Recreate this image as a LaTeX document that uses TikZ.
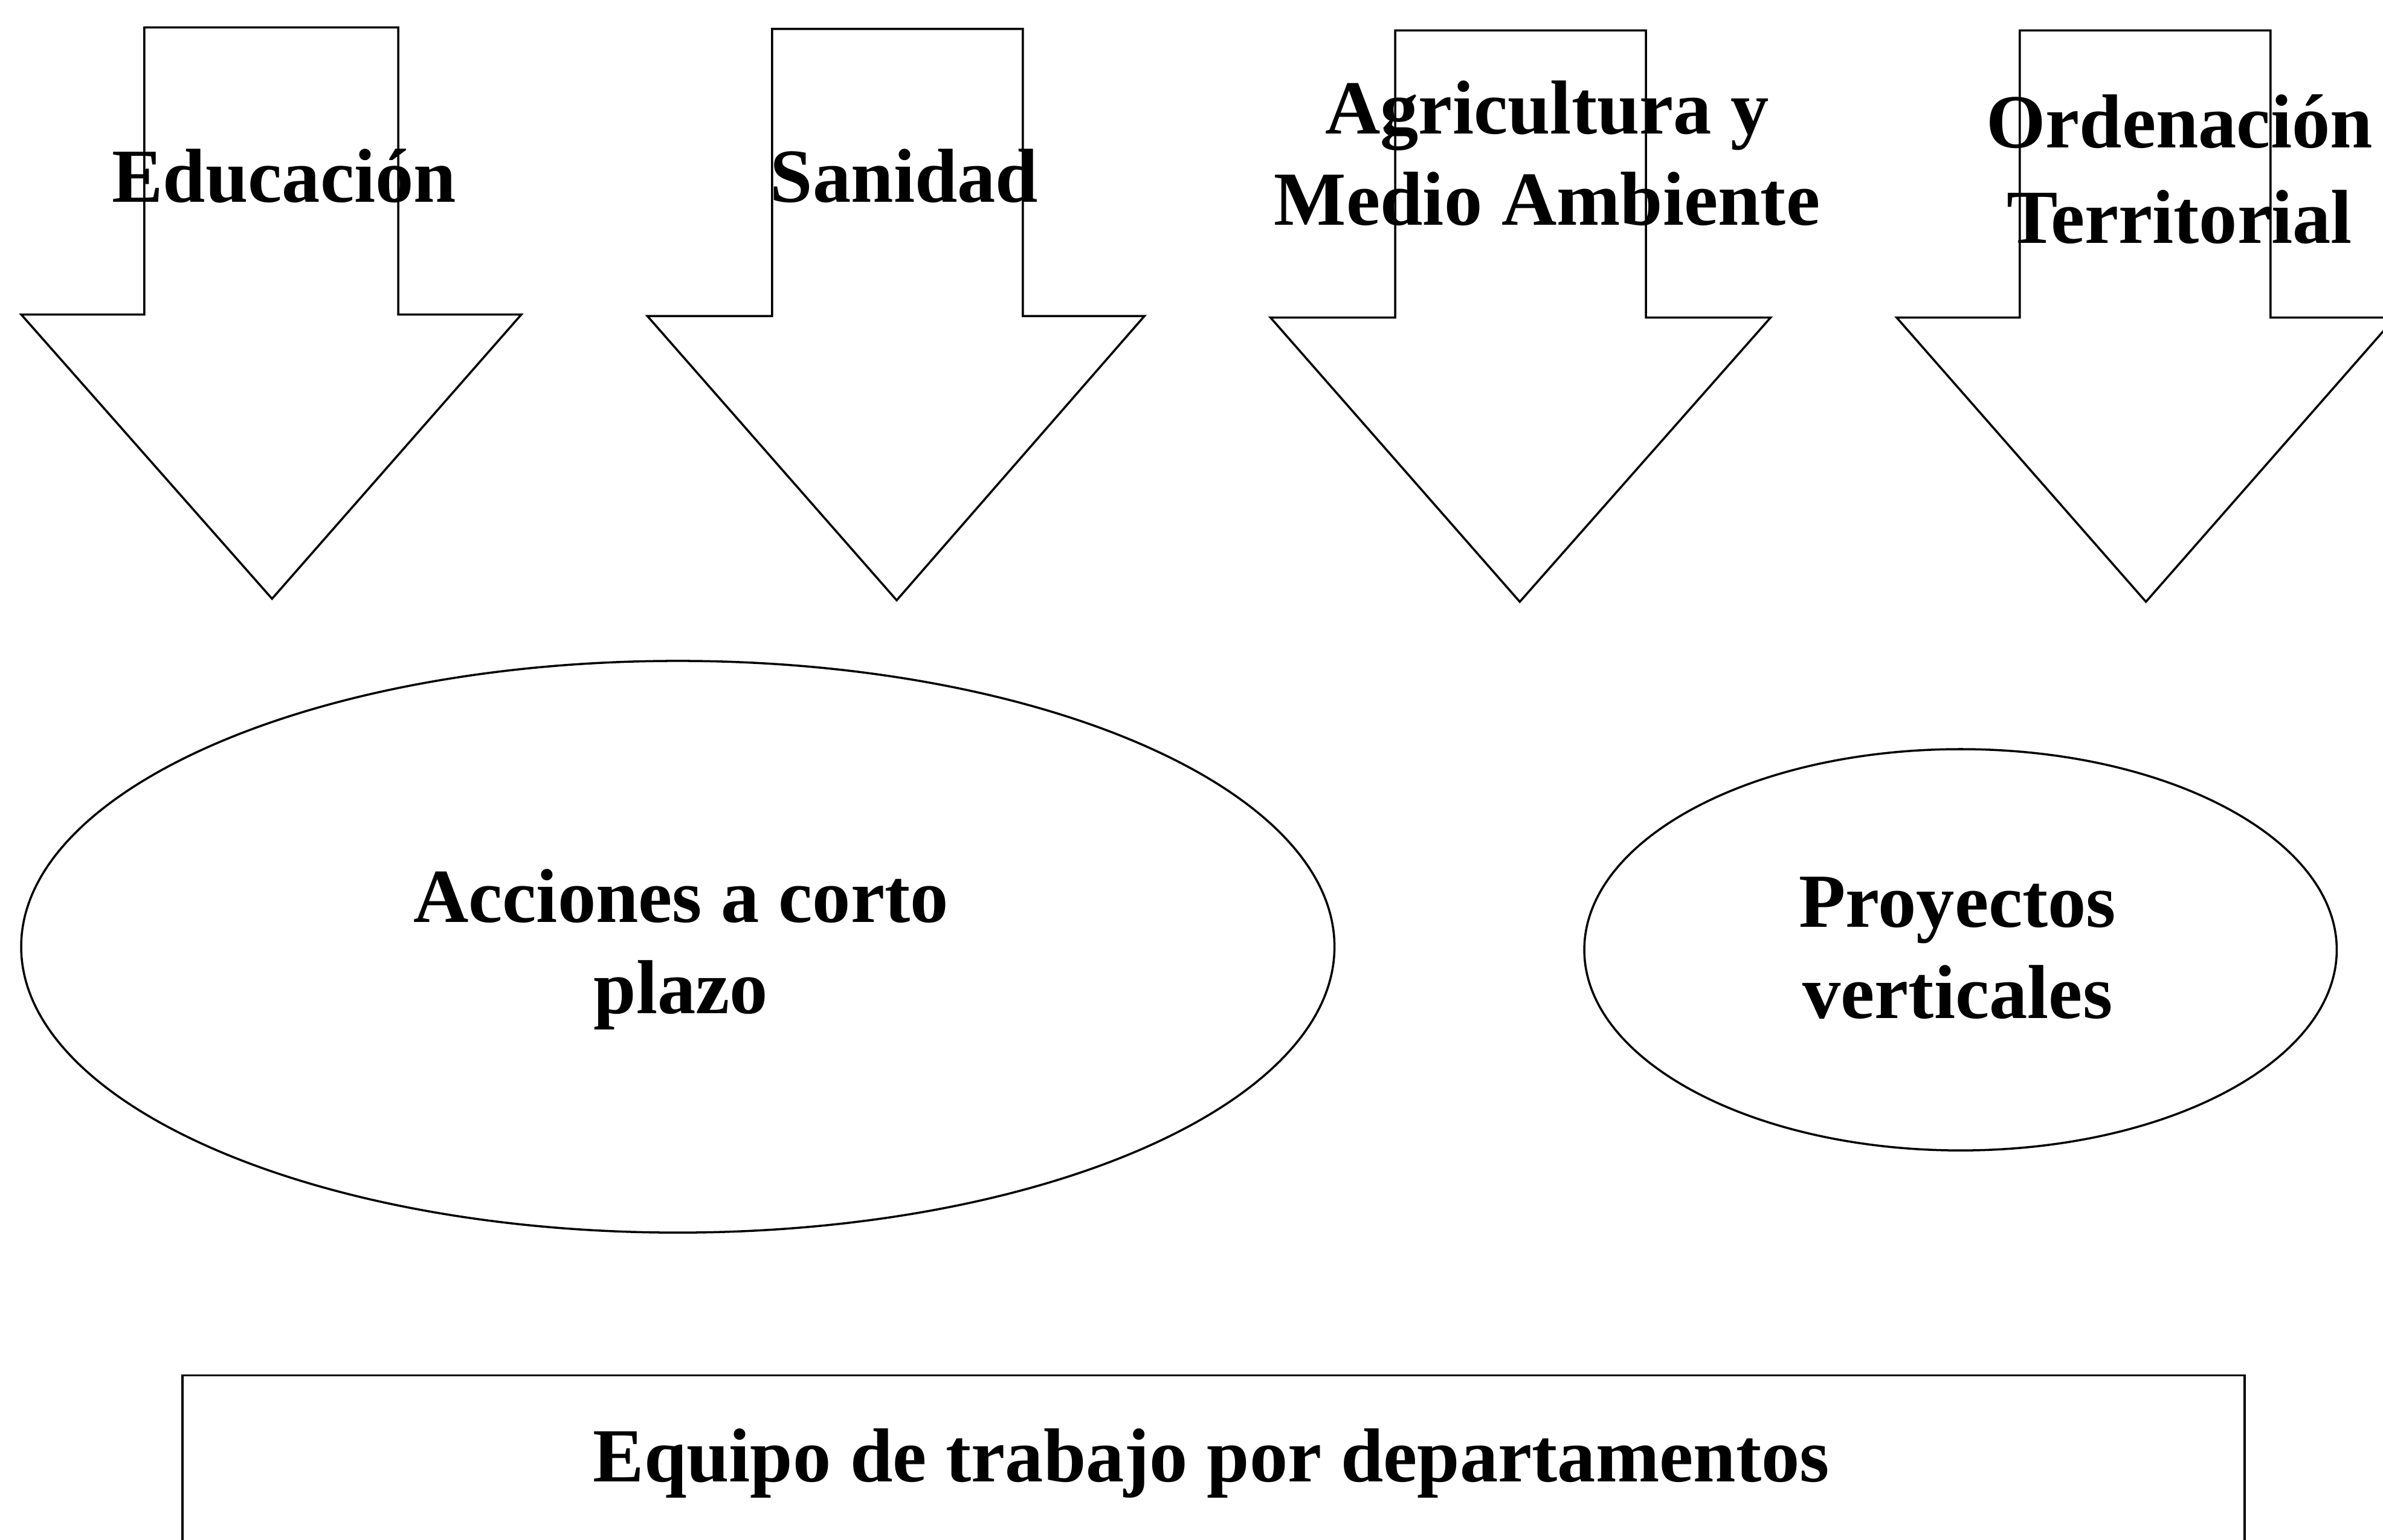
\documentclass[tikz,border=0pt]{standalone}
\usepackage{fontspec}
\setmainfont{Liberation Serif}
\usetikzlibrary{shapes.geometric}
\begin{document}
\begin{tikzpicture}[x=0.025153cm,y=-0.025153cm, line width=1pt,
  lbl/.style={font=\fontsize{36}{43}\selectfont\bfseries, align=center, inner sep=0pt},
  blockarrow/.style={draw, line join=miter},
  oval/.style={draw, ellipse, inner sep=0pt}]
\clip (0,0) rectangle (1568,1013);
\fill[white] (0,0) rectangle (1568,1013);
% block arrows
\foreach \sl/\sr/\hl/\hr/\tx/\tp/\sh/\tip in {
  95/262/14/343/179/18/207/394,
  508/673/426/753/590/19/208/395,
  918/1083/836/1165/1000/20/209/396,
  1329/1494/1248/1576/1412/20/209/396}{
  \path[blockarrow] (\sl,\tp) -- (\sr,\tp) -- (\sr,\sh) -- (\hr,\sh) -- (\tx,\tip) -- (\hl,\sh) -- (\sl,\sh) -- cycle;
}
\node[lbl, anchor=base] (edu) at (187,133) {Educación};
\node[lbl, anchor=base] (san) at (595,133) {Sanidad};
\node[lbl, anchor=base] (agr) at (1018,148) {Agricultura y\\Medio Ambiente};
\node[lbl, anchor=base] (ord) at (1434,160) {Ordenación\\[2pt]Territorial};
% ovals
\node[oval, minimum width=21.73cm, minimum height=9.46cm] (acc) at (446,623) {};
\node[lbl, anchor=base] (acct) at (448,667) {Acciones a corto\\plazo};
\node[oval, minimum width=12.45cm, minimum height=6.64cm] (proy) at (1290,625) {};
\node[lbl, anchor=base] (proyt) at (1288,670) {Proyectos\\verticales};
% bottom box
\draw (120,905) rectangle (1477,1040);
\node[lbl, anchor=base] (equipo) at (797,975) {Equipo de trabajo por departamentos};
\end{tikzpicture}
\end{document}
